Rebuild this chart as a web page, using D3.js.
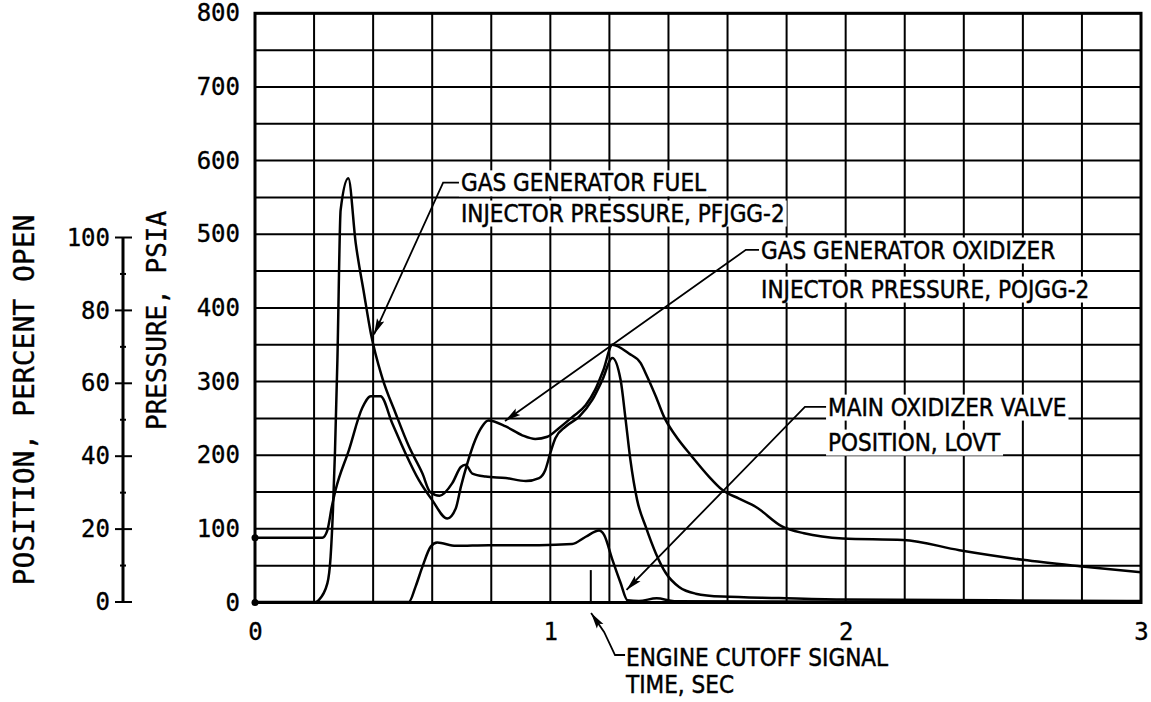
<!DOCTYPE html>
<html><head><meta charset="utf-8">
<script src="https://cdn.jsdelivr.net/npm/d3@7"></script>
<style>
body{margin:0;background:#fff}
svg{display:block}
.ann{font-family:"Liberation Sans Narrow","DejaVu Sans Condensed","Arial Narrow",sans-serif;font-size:24px;fill:#000;stroke:#000;stroke-width:0.45px}
.ax{font-family:"DejaVu Sans Mono",monospace;font-size:24px;fill:#000;stroke:#000;stroke-width:0.35px}
</style>
</head><body>
<svg id="c" width="1151" height="702"></svg>
<script>
// ---------- data ----------
const fuelTime = [0,0.205,0.215,0.245,0.256,0.264,0.271,0.279,0.29,0.316,0.341,0.369,0.392,0.431,0.476,0.521,0.567,0.593,0.625,0.668,0.697,0.713,0.736,0.781,0.849,0.917,0.962,0.983,1.0,1.017,1.052,1.097,1.142,1.176,1.21,1.238,1.255,1.271,1.294,1.323,1.357,1.391,1.436,1.492,1.582,1.774,2.0,2.5,3.0];
const fuelPressure = [0,0,3,26,62,126,207,329,533,576,488,420,366,305,257,212,175,150,145,162,184,187,175,171,169,165,169,180,203,223,239,252,275,302,332,302,248,194,139,103,67,40,21,12,8,6,4,3,2];

const oxTime = [0,0.228,0.245,0.26,0.273,0.318,0.363,0.392,0.425,0.465,0.509,0.555,0.60,0.651,0.68,0.697,0.719,0.746,0.769,0.79,0.849,0.905,0.949,0.99,1.03,1.075,1.12,1.152,1.18,1.21,1.266,1.306,1.323,1.357,1.385,1.423,1.48,1.537,1.582,1.639,1.695,1.786,1.859,1.99,2.194,2.385,2.60,2.80,3.0];
const oxPressure = [88,88,98,130,153,207,264,280,280,243,203,166,139,114,128,157,189,221,239,247,239,227,222,225,237,252,268,289,316,350,338,325,311,280,252,227,198,171,153,141,130,103,94,87,85,71,58,49,41];

const lovtTime = [0,0.521,0.544,0.567,0.595,0.617,0.68,0.792,0.962,1.074,1.12,1.165,1.182,1.21,1.238,1.261,1.30,1.36,1.42,3.0];
const lovtPosition = [0,0,4.3,9.7,15.2,16.3,15.4,15.6,15.6,15.9,17.9,19.6,18.4,11.6,5.2,0.5,0.3,1.0,0.2,0];

const cutoffTime = 1.137;

const pressureTicks = [0,100,200,300,400,500,600,700,800];
const positionTicks = [0,20,40,60,80,100];
const positionMinor = [10,30,50,70,90];
const timeTicks = [0,1,2,3];
const timeGrid = d3.range(16).map(i => i / 5);
const pressureGrid = d3.range(17).map(i => i * 50);

// ---------- scales ----------
const svg = d3.select('#c');
const x = d3.scaleLinear().domain([0,3]).range([255,1141]);
const y = d3.scaleLinear().domain([0,800]).range([602.5,13.3]);
const y2 = d3.scaleLinear().domain([0,100]).range([602,237.5]);

// ---------- grid ----------
const grid = svg.append('g').attr('stroke','#000').attr('stroke-width',2);
grid.selectAll('line.v').data(timeGrid).join('line').attr('class','v')
  .attr('x1',d=>x(d)).attr('x2',d=>x(d)).attr('y1',y(0)).attr('y2',y(800));
grid.selectAll('line.h').data(pressureGrid).join('line').attr('class','h')
  .attr('x1',x(0)).attr('x2',x(3)).attr('y1',d=>y(d)).attr('y2',d=>y(d));
svg.append('rect').attr('x',x(0)).attr('y',y(800)).attr('width',x(3)-x(0)).attr('height',y(0)-y(800))
  .attr('fill','none').attr('stroke','#000').attr('stroke-width',3);

// ---------- axes (labels) ----------
const ga = svg.append('g').attr('transform',`translate(${x(0)},0)`)
  .call(d3.axisLeft(y).tickValues(pressureTicks).tickSize(0).tickPadding(15));
ga.select('.domain').remove();
ga.selectAll('text').attr('class','ax').attr('font-family',null).attr('font-size',null);

const gx = svg.append('g').attr('transform',`translate(0,${y(0)})`)
  .call(d3.axisBottom(x).tickValues(timeTicks).tickFormat(d3.format('d')).tickSize(0).tickPadding(20));
gx.select('.domain').remove();
gx.selectAll('text').attr('class','ax').attr('font-family',null).attr('font-size',null);

const posX = 123;
const gp = svg.append('g').attr('transform',`translate(${posX},0)`)
  .call(d3.axisLeft(y2).tickValues(positionTicks).tickSize(0).tickPadding(13));
gp.select('.domain').remove();
gp.selectAll('text').attr('class','ax').attr('font-family',null).attr('font-size',null);
svg.append('line').attr('x1',posX).attr('x2',posX).attr('y1',y2(0)).attr('y2',y2(100))
  .attr('stroke','#000').attr('stroke-width',3);
svg.selectAll('line.pmaj').data(positionTicks).join('line').attr('class','pmaj')
  .attr('x1',posX-8).attr('x2',posX+9).attr('y1',d=>y2(d)).attr('y2',d=>y2(d))
  .attr('stroke','#000').attr('stroke-width',2);
svg.selectAll('line.pmin').data(positionMinor).join('line').attr('class','pmin')
  .attr('x1',posX-3).attr('x2',posX+3).attr('y1',d=>y2(d)).attr('y2',d=>y2(d))
  .attr('stroke','#000').attr('stroke-width',2);

// axis titles
svg.append('text').attr('class','ax').style('font-size','28px')
  .attr('transform',`translate(24,400) rotate(-90)`).attr('text-anchor','middle').attr('dy','0.35em')
  .text('POSITION, PERCENT OPEN');
svg.append('text').attr('class','ax').style('font-size','26px')
  .attr('transform',`translate(157,${y(383)}) rotate(-90)`).attr('text-anchor','middle').attr('dy','0.35em')
  .text('PRESSURE, PSIA');

// ---------- curves ----------
const line = (ys) => d3.line().x(d=>x(d[0])).y(d=>ys(d[1])).curve(d3.curveMonotoneX);
const curves = svg.append('g').attr('fill','none').attr('stroke','#000').attr('stroke-width',2.5).attr('stroke-linejoin','round');
curves.append('path').attr('d', line(y)(d3.zip(fuelTime,fuelPressure)));
curves.append('path').attr('d', line(y)(d3.zip(oxTime,oxPressure)));
curves.append('path').attr('d', line(y2)(d3.zip(lovtTime,lovtPosition)));

svg.append('circle').attr('cx',x(0)).attr('cy',y(oxPressure[0])).attr('r',3.5).attr('fill','#000');
svg.append('circle').attr('cx',x(0)).attr('cy',y(0)).attr('r',3.5).attr('fill','#000');

// engine cutoff signal line
svg.append('line').attr('x1',x(cutoffTime)).attr('x2',x(cutoffTime)).attr('y1',y(44)).attr('y2',y(0))
  .attr('stroke','#000').attr('stroke-width',2);

// ---------- annotations ----------
const defs = svg.append('defs');
defs.append('marker').attr('id','ah').attr('viewBox','0 0 16 10').attr('refX',16).attr('refY',5)
  .attr('markerWidth',16).attr('markerHeight',10).attr('markerUnits','userSpaceOnUse').attr('orient','auto')
  .append('path').attr('d','M0,1 L16,5 L0,9 L3,5 Z').attr('fill','#000');

const annotations = [
  {lines:['GAS GENERATOR FUEL','INJECTOR PRESSURE, PFJGG-2'], tx:0.694, ty:[570,529],
   leader:[[0.694,570],[0.637,570],[0.403,364]], bg:true},
  {lines:['GAS GENERATOR OXIDIZER','INJECTOR PRESSURE, POJGG-2'], tx:1.71, ty:[478.8,425.8],
   leader:[[1.71,478.8],[1.662,478.8],[0.8465,246.5]], bg:true},
  {lines:['MAIN OXIDIZER VALVE','POSITION, LOVT'], tx:1.937, ty:[265.5,218],
   leader:[[1.937,265.5],[1.862,265.5],[1.258,17]], bg:true},
  {lines:['ENGINE CUTOFF SIGNAL'], tx:1.253, ty:[-74],
   leader:[[1.253,-71.3],[1.219,-71.3],[1.182,-40],[1.138,-14.3]], bg:false}
];
const ag = svg.append('g');
annotations.forEach(a=>{
  ag.append('path').attr('d', d3.line().x(d=>x(d[0])).y(d=>y(d[1]))(a.leader))
    .attr('fill','none').attr('stroke','#000').attr('stroke-width',1.8).attr('marker-end','url(#ah)');
  a.lines.forEach((t,i)=>{
    const el = ag.append('text').attr('class','ann').attr('x',x(a.tx)+1).attr('y',y(a.ty[i])).attr('dy','0.36em').text(t);
    if(a.bg){
      const b = el.node().getBBox();
      ag.insert('rect', () => el.node()).attr('x',b.x-2).attr('y',b.y+1).attr('width',b.width+4).attr('height',b.height-2).attr('fill','#fff');
    }
  });
});
svg.append('text').attr('class','ann').attr('x',x(1.253)+1).attr('y',684).attr('dy','0.36em').text('TIME, SEC');
</script>
</body></html>
